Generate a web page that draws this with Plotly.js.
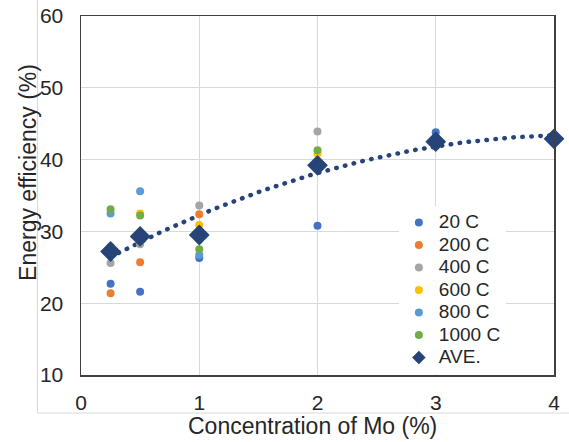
<!DOCTYPE html>
<html>
<head>
<meta charset="utf-8">
<script src="https://cdn.plot.ly/plotly-3.0.1.min.js"></script>
<style>
html,body{margin:0;padding:0;background:#fff;}
#chart{width:569px;height:442px;}
</style>
</head>
<body>
<div id="chart"></div>
<script>
// Concentration of Mo (%)
const conc = [0.25, 0.5, 1, 2, 3, 4];
// Energy efficiency (%) per temperature
const s20   = [22.7, 21.6, 26.3, 30.8, 43.8, null];
const s200  = [21.4, 25.7, 32.4, 39.2, null, null];
const s400  = [25.6, 28.2, 33.6, 43.9, null, null];
const s600  = [27.9, 32.5, 30.9, 40.8, null, null];
const s800  = [32.5, 35.6, 26.7, 39.2, null, null];
const s1000 = [33.1, 32.2, 27.5, 41.3, null, null];
const ave   = [27.2, 29.3, 29.5, 39.2, 42.5, 42.9];
const seriesNames = ["20 C", "200 C", "400 C", "600 C", "800 C", "1000 C"];
const aveName = "AVE.";
const seriesData = [s20, s200, s400, s600, s800, s1000];
const seriesColors = ["#4472C4", "#ED7D31", "#A5A5A5", "#FFC000", "#5B9BD5", "#70AD47"];
const xTitle = "Concentration of Mo (%)";
const yTitle = "Energy efficiency (%)";

// quadratic least-squares trendline of the averages
function polyfit2(xs, ys) {
  let S = [0,0,0,0,0], T = [0,0,0];
  for (let i = 0; i < xs.length; i++) {
    let p = 1;
    for (let k = 0; k < 5; k++) { S[k] += p; if (k < 3) T[k] += p * ys[i]; p *= xs[i]; }
  }
  const A = [[S[0],S[1],S[2],T[0]],[S[1],S[2],S[3],T[1]],[S[2],S[3],S[4],T[2]]];
  for (let i = 0; i < 3; i++) {
    for (let j = i + 1; j < 3; j++) {
      const f = A[j][i] / A[i][i];
      for (let k = i; k < 4; k++) A[j][k] -= f * A[i][k];
    }
  }
  const c = [0,0,0];
  for (let i = 2; i >= 0; i--) {
    let s = A[i][3];
    for (let k = i + 1; k < 3; k++) s -= A[i][k] * c[k];
    c[i] = s / A[i][i];
  }
  return c;
}
const coef = polyfit2(conc, ave);
const trendX = [], trendY = [];
const xmin = Math.min(...conc), xmax = Math.max(...conc);
for (let i = 0; i <= 80; i++) {
  const x = xmin + (xmax - xmin) * i / 80;
  trendX.push(x);
  trendY.push(coef[0] + coef[1] * x + coef[2] * x * x);
}

const legName = n => '<span style="font-size:19px">' + n + '</span>';

const traces = [{
  x: trendX, y: trendY, mode: "lines", type: "scatter",
  line: {color: "#264478", width: 4.5, dash: "0.5px,8.5px"},
  showlegend: false, hoverinfo: "skip", name: "trend", cliponaxis: false
}];
seriesNames.forEach((n, i) => {
  traces.push({
    x: conc, y: seriesData[i], mode: "markers", type: "scatter", name: legName(n),
    marker: {color: seriesColors[i], size: 8, symbol: "circle"}, cliponaxis: false
  });
});
traces.push({
  x: conc, y: ave, mode: "markers", type: "scatter", name: legName(aveName),
  marker: {color: "#264478", size: 16, symbol: "diamond"}, cliponaxis: false
});

const font = {family: "Liberation Sans, Arial, sans-serif", color: "#262626"};
const layout = {
  width: 569, height: 442,
  margin: {l: 81, r: 15, t: 16, b: 67},
  paper_bgcolor: "#fff", plot_bgcolor: "#fff",
  font: Object.assign({size: 21}, font),
  showlegend: true,
  legend: {
    x: 0.672, y: 0.47, xanchor: "left", yanchor: "top",
    bgcolor: "#fff", borderwidth: 0,
    font: Object.assign({size: 15}, font),
    tracegroupgap: 0
  },
  xaxis: {
    range: [0, 4], dtick: 1, tick0: 0, showgrid: true, gridcolor: "#D9D9D9",
    zeroline: false, showline: true, mirror: true, linecolor: "#404040", linewidth: 1.5,
    ticks: "", ticklabelstandoff: 8,
    tickfont: Object.assign({size: 21}, font)
  },
  yaxis: {
    range: [10, 60], dtick: 10, tick0: 10, showgrid: true, gridcolor: "#D9D9D9",
    zeroline: false, showline: true, mirror: true, linecolor: "#404040", linewidth: 1.5,
    ticks: "", ticklabelstandoff: 12,
    tickfont: Object.assign({size: 21}, font)
  },
  annotations: [
    {text: xTitle, xref: "paper", yref: "paper", x: 0.49, y: -0.142,
     xanchor: "center", yanchor: "middle", showarrow: false,
     font: Object.assign({size: 23}, font)},
    {text: yTitle, xref: "paper", yref: "paper", x: -0.112, y: 0.563, textangle: -90,
     xanchor: "center", yanchor: "middle", showarrow: false,
     font: Object.assign({size: 23}, font)}
  ],
  shapes: [
    {type: "line", xref: "paper", yref: "paper", x0: -0.092, x1: -0.092, y0: -0.106, y1: 1.05,
     line: {color: "#D9D9D9", width: 1}},
    {type: "line", xref: "paper", yref: "paper", x0: -0.092, x1: 1.04, y0: -0.106, y1: -0.106,
     line: {color: "#D9D9D9", width: 1}}
  ]
};

Plotly.newPlot("chart", traces, layout, {displayModeBar: false, staticPlot: true}).then(() => {
  const lines = document.querySelectorAll(".scatterlayer .trace .js-line");
  if (lines.length) lines[0].style.strokeLinecap = "round";
  const legTraces = document.querySelectorAll(".legend .traces");
  if (legTraces.length) {
    const last = legTraces[legTraces.length - 1];
    last.querySelectorAll(".legendpoints path.scatterpts").forEach(p => {
      const t = p.getAttribute("transform") || "";
      p.setAttribute("transform", t + " scale(0.65)");
    });
  }
});
</script>
</body>
</html>
